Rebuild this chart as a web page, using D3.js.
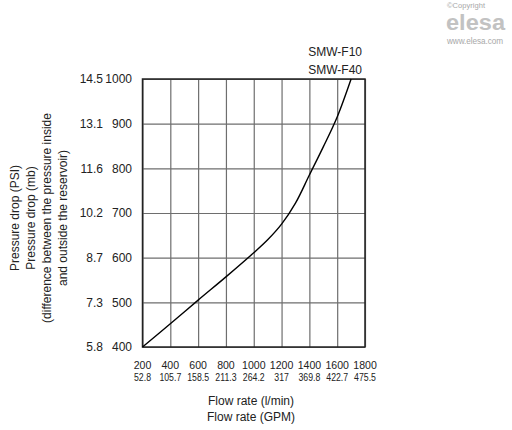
<!DOCTYPE html>
<html>
<head>
<meta charset="utf-8">
<script src="https://cdn.jsdelivr.net/npm/d3@7"></script>
<style>
  html, body { margin: 0; padding: 0; background: #fff; }
  svg { display: block; font-family: "Liberation Sans", Arial, sans-serif; }
</style>
</head>
<body>
<svg id="chart" width="512" height="430"></svg>
<script>
// ---- data ----
const flowTicks = [200, 400, 600, 800, 1000, 1200, 1400, 1600, 1800];
const gpmLabels = ["52.8", "105.7", "158.5", "211.3", "264.2", "317", "369.8", "422.7", "475.5"];
const mbTicks = [400, 500, 600, 700, 800, 900, 1000];
const psiLabels = ["5.8", "7.3", "8.7", "10.2", "11.6", "13.1", "14.5"];
const seriesNames = ["SMW-F10", "SMW-F40"];
const flow = [200, 400, 600, 800, 1000, 1100, 1200, 1300, 1400, 1500, 1600, 1700];
const drop = [400, 452, 505, 557, 611, 640, 675, 722, 785, 848, 915, 1000];
const yTitleLines = ["Pressure drop (PSI)", "Pressure drop (mb)", "(difference between the pressure inside", "and outside the reservoir)"];
const xTitleLines = ["Flow rate (l/min)", "Flow rate (GPM)"];

// ---- layout ----
const L = 142.5, R = 365, T = 79, B = 347;
const svg = d3.select("#chart");
const x = d3.scaleLinear().domain([200, 1800]).range([L, R]);
const y = d3.scaleLinear().domain([400, 1000]).range([B, T]);

// grid
svg.append("g")
  .attr("transform", `translate(0,${B})`)
  .call(d3.axisBottom(x).tickValues(flowTicks).tickSize(-(B - T)).tickFormat(""))
  .call(g => g.select(".domain").remove())
  .call(g => g.selectAll("line").attr("stroke", "#6e6e6e").attr("stroke-width", 1.2));
svg.append("g")
  .attr("transform", `translate(${L},0)`)
  .call(d3.axisLeft(y).tickValues(mbTicks).tickSize(-(R - L)).tickFormat(""))
  .call(g => g.select(".domain").remove())
  .call(g => g.selectAll("line").attr("stroke", "#6e6e6e").attr("stroke-width", 1.2));

// border
svg.append("rect")
  .attr("x", L).attr("y", T).attr("width", R - L).attr("height", B - T)
  .attr("fill", "none").attr("stroke", "#222").attr("stroke-width", 1.5);

// curve
const pts = flow.map((f, i) => [f, drop[i]]);
svg.append("path")
  .datum(pts)
  .attr("fill", "none")
  .attr("stroke", "#000")
  .attr("stroke-width", 1.4)
  .attr("d", d3.line().x(d => x(d[0])).y(d => y(d[1])).curve(d3.curveCatmullRom.alpha(0.5)));

// y tick labels (mb and PSI)
svg.append("g").selectAll("text").data(mbTicks).join("text")
  .attr("x", 132).attr("y", d => y(d) + 4.3)
  .attr("text-anchor", "end").attr("font-size", 12).attr("fill", "#222")
  .text(d => d);
svg.append("g").selectAll("text").data(psiLabels).join("text")
  .attr("x", 103).attr("y", (d, i) => y(mbTicks[i]) + 4.3)
  .attr("text-anchor", "end").attr("font-size", 12).attr("fill", "#222")
  .text(d => d);

// x tick labels
svg.append("g").selectAll("text").data(flowTicks).join("text")
  .attr("transform", d => `translate(${x(d)},368.7) scale(0.92,1)`)
  .attr("text-anchor", "middle").attr("font-size", 11.5).attr("fill", "#222")
  .text(d => d);
svg.append("g").selectAll("text").data(gpmLabels).join("text")
  .attr("transform", (d, i) => `translate(${x(flowTicks[i])},381.3) scale(0.78,1)`)
  .attr("text-anchor", "middle").attr("font-size", 11.2).attr("fill", "#222")
  .text(d => d);

// axis titles
svg.append("g").selectAll("text").data(xTitleLines).join("text")
  .attr("x", 251).attr("y", (d, i) => 405 + i * 16.3)
  .attr("text-anchor", "middle").attr("font-size", 12).attr("fill", "#222")
  .text(d => d);
svg.append("g").attr("transform", "translate(0,218) rotate(-90)")
  .selectAll("text").data(yTitleLines).join("text")
  .attr("x", 0).attr("y", (d, i) => 19 + i * 16)
  .attr("text-anchor", "middle").attr("font-size", 12).attr("fill", "#222")
  .text(d => d);

// series labels
svg.append("g").selectAll("text").data(seriesNames).join("text")
  .attr("x", 362).attr("y", (d, i) => 56 + i * 18)
  .attr("text-anchor", "end").attr("font-size", 12).attr("fill", "#222")
  .text(d => d);

// logo
svg.append("text").attr("x", 447).attr("y", 7.5).attr("font-size", 7.5).attr("fill", "#a8a8a8")
  .attr("textLength", 38).text("\u00A9Copyright");
svg.append("text").attr("x", 446).attr("y", 30).attr("font-size", 22).attr("font-weight", "bold")
  .attr("fill", "#c2c2c2").attr("textLength", 59).attr("lengthAdjust", "spacingAndGlyphs").text("elesa");
svg.append("text").attr("x", 447).attr("y", 44).attr("font-size", 8.2).attr("fill", "#a8a8a8")
  .attr("textLength", 56).text("www.elesa.com");
</script>
</body>
</html>
